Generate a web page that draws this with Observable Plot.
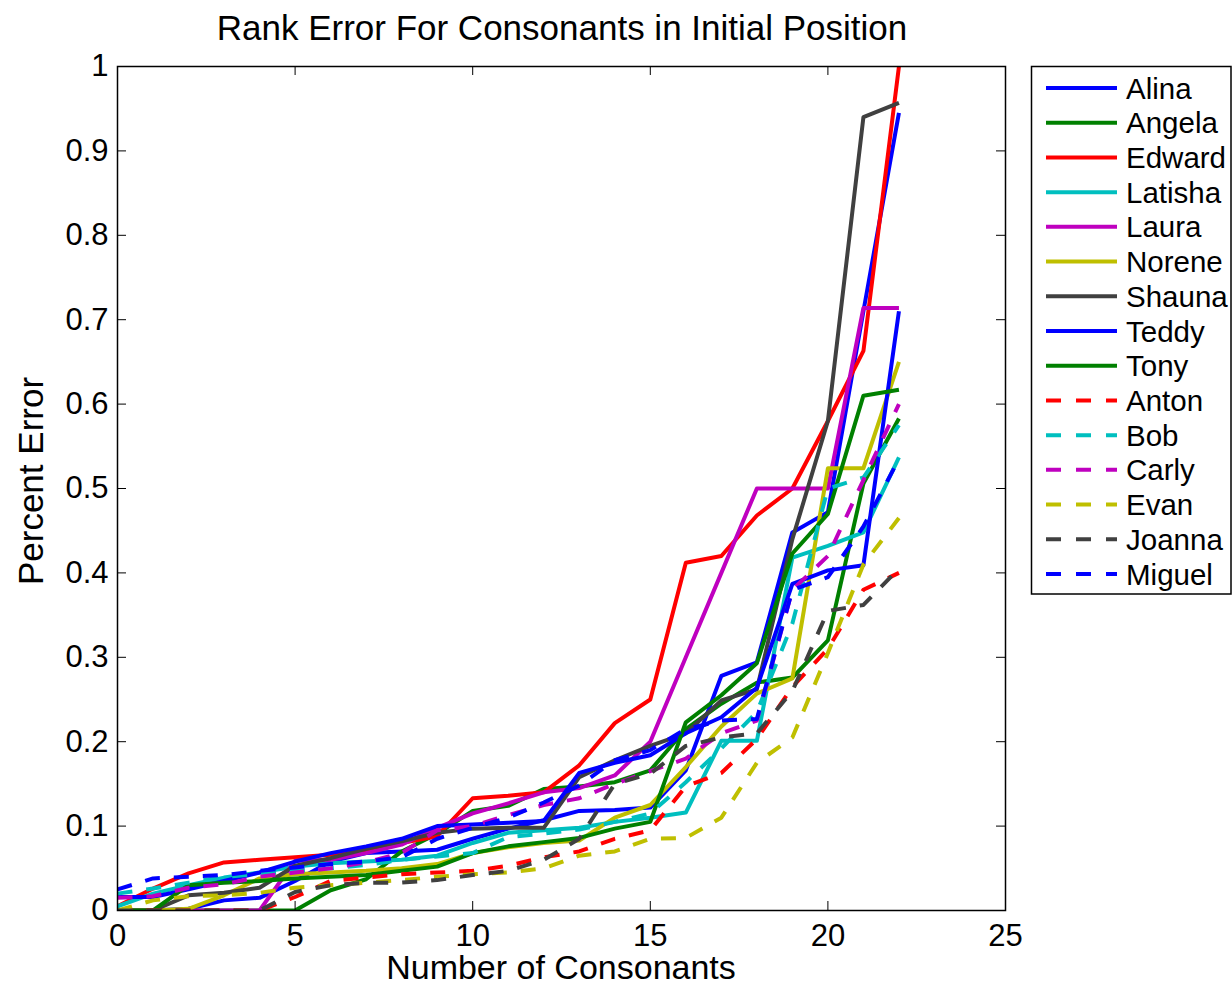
<!DOCTYPE html>
<html><head><meta charset="utf-8">
<script src="https://cdn.jsdelivr.net/npm/d3@7"></script>
<script src="https://cdn.jsdelivr.net/npm/@observablehq/plot@0.6"></script>
<style>
html,body{margin:0;padding:0;background:#fff;}
#wrap{position:relative;width:1232px;height:986px;font-family:"Liberation Sans",Arial,Helvetica,sans-serif;}
#wrap svg{position:absolute;left:0;top:0;}
</style></head><body><div id="wrap"></div>
<script>
// ---- data ----
const xs = [0,1,2,3,4,5,6,7,8,9,10,11,12,13,14,15,16,17,18,19,20,21,22];
const alina  = [0,0,0.002,0.012,0.015,0.035,0.058,0.068,0.07,0.072,0.085,0.097,0.107,0.118,0.119,0.122,0.166,0.278,0.294,0.448,0.472,0.71,0.945];
const angela = [0,0,0,0,0,0,0.024,0.037,0.07,0.091,0.118,0.124,0.144,0.147,0.152,0.166,0.215,0.245,0.27,0.276,0.32,0.506,0.583];
const edward = [0.005,0.026,0.044,0.057,0.06,0.063,0.066,0.072,0.08,0.088,0.133,0.136,0.14,0.172,0.222,0.25,0.412,0.42,0.468,0.50,0.58,0.663,1.0];
const latisha= [0.005,0.02,0.03,0.039,0.045,0.052,0.056,0.058,0.06,0.065,0.08,0.092,0.095,0.098,0.105,0.11,0.116,0.201,0.201,0.418,0.432,0.448,0.537];
const laura  = [0,0,0,0,0,0.059,0.06,0.068,0.078,0.098,0.115,0.127,0.14,0.145,0.16,0.20,0.30,0.40,0.50,0.50,0.50,0.714,0.714];
const norene = [0,0,0.002,0.018,0.038,0.043,0.045,0.047,0.05,0.055,0.068,0.075,0.08,0.083,0.11,0.125,0.17,0.218,0.257,0.275,0.524,0.524,0.65];
const shauna = [0,0,0.018,0.021,0.027,0.053,0.062,0.073,0.082,0.092,0.097,0.098,0.098,0.158,0.178,0.195,0.21,0.249,0.262,0.44,0.58,0.94,0.957];
const teddy  = [0.016,0.016,0.025,0.035,0.045,0.058,0.068,0.076,0.085,0.1,0.102,0.104,0.106,0.163,0.175,0.184,0.21,0.229,0.264,0.387,0.403,0.409,0.71];
const tony   = [0,0,0.03,0.033,0.035,0.038,0.04,0.042,0.047,0.052,0.068,0.076,0.081,0.086,0.097,0.105,0.223,0.255,0.293,0.423,0.47,0.61,0.617];
const anton  = [0,0,0,0,0,0.016,0.035,0.039,0.043,0.045,0.047,0.053,0.063,0.07,0.085,0.095,0.147,0.163,0.203,0.265,0.31,0.38,0.40];
const bob    = [0.02,0.026,0.033,0.04,0.043,0.047,0.05,0.054,0.06,0.064,0.068,0.087,0.091,0.096,0.105,0.115,0.152,0.192,0.235,0.34,0.50,0.513,0.575];
const carly  = [0.015,0.017,0.027,0.031,0.04,0.045,0.05,0.057,0.068,0.095,0.10,0.113,0.125,0.133,0.15,0.165,0.18,0.21,0.225,0.38,0.42,0.51,0.60];
const evan   = [0,0.012,0.017,0.018,0.021,0.027,0.03,0.033,0.036,0.04,0.043,0.045,0.05,0.065,0.07,0.085,0.086,0.11,0.175,0.205,0.305,0.41,0.465];
const joanna = [0,0,0,0,0,0.022,0.03,0.033,0.033,0.036,0.042,0.047,0.06,0.085,0.15,0.162,0.195,0.205,0.21,0.26,0.355,0.362,0.405];
const miguel = [0.025,0.038,0.04,0.042,0.047,0.051,0.055,0.058,0.063,0.085,0.098,0.11,0.128,0.148,0.178,0.19,0.215,0.225,0.227,0.38,0.395,0.455,0.535];

const seriesNames = ["Alina","Angela","Edward","Latisha","Laura","Norene","Shauna","Teddy","Tony","Anton","Bob","Carly","Evan","Joanna","Miguel"];
const seriesValues = [alina,angela,edward,latisha,laura,norene,shauna,teddy,tony,anton,bob,carly,evan,joanna,miguel];
const xTicks = [0,5,10,15,20,25];
const yTicks = [0,0.1,0.2,0.3,0.4,0.5,0.6,0.7,0.8,0.9,1];
const titleText = "Rank Error For Consonants in Initial Position";
const xLabel = "Number of Consonants";
const yLabel = "Percent Error";

// ---- styles ----
const seriesColors = ["#0000ff","#008000","#ff0000","#00bfbf","#bf00bf","#bfbf00","#404040","#0000ff","#008000",
                      "#ff0000","#00bfbf","#bf00bf","#bfbf00","#404040","#0000ff"];
const seriesDashed = [false,false,false,false,false,false,false,false,false,true,true,true,true,true,true];

const W = 1232, H = 986, mL = 117, mR = 227, mT = 66, mB = 76;
const plotH = H - mT - mB;
const plotW = W - mL - mR;
const tickLen = 9;
const FONT = "Liberation Sans, Arial, Helvetica, sans-serif";

const table = seriesNames.flatMap((name, k) => seriesValues[k].map((v, i) => ({name, x: xs[i], y: v})));

const lineMarks = seriesNames.map((name, k) =>
  Plot.line(table.filter(d => d.name === name), {
    x: "x", y: "y",
    stroke: seriesColors[k],
    strokeWidth: 4,
    strokeDasharray: seriesDashed[k] ? "15,14" : null,
    strokeLinecap: "butt",
    strokeLinejoin: "round",
    clip: true
  })
);

const chart = Plot.plot({
  width: W, height: H,
  marginLeft: mL, marginRight: mR, marginTop: mT, marginBottom: mB,
  style: {fontFamily: FONT, background: "transparent", color: "black", overflow: "visible"},
  x: {domain: [0, 25], axis: null},
  y: {domain: [0, 1], axis: null},
  marks: [
    ...lineMarks,
    Plot.ruleX(xTicks, {stroke: "black", strokeWidth: 1, insetTop: plotH - tickLen}),
    Plot.ruleX(xTicks, {stroke: "black", strokeWidth: 1, insetBottom: plotH - tickLen}),
    Plot.ruleY(yTicks, {stroke: "black", strokeWidth: 1, insetRight: plotW - tickLen}),
    Plot.ruleY(yTicks, {stroke: "black", strokeWidth: 1, insetLeft: plotW - tickLen}),
    Plot.frame({stroke: "black", strokeWidth: 1.5}),
    Plot.axisX({ticks: xTicks, tickSize: 0, tickPadding: 13, fontSize: 31, tickFormat: d3.format("~g"), label: null}),
    Plot.axisY({ticks: yTicks, tickSize: 0, tickPadding: 9, fontSize: 31, tickFormat: d3.format("~g"), label: null})
  ]
});

const wrap = document.getElementById("wrap");
wrap.appendChild(chart);

// ---- overlay: title, axis labels, legend ----
const ov = d3.select(wrap).append("svg")
  .attr("width", W).attr("height", H)
  .style("font-family", FONT)
  .style("pointer-events", "none");

ov.append("text").attr("x", 562).attr("y", 40).attr("text-anchor", "middle")
  .attr("font-size", 35).text(titleText);
ov.append("text").attr("x", 561).attr("y", 979).attr("text-anchor", "middle")
  .attr("font-size", 34).text(xLabel);
ov.append("text").attr("transform", "translate(43,481) rotate(-90)").attr("text-anchor", "middle")
  .attr("font-size", 35).text(yLabel);

const lg = ov.append("g");
lg.append("rect").attr("x", 1031.5).attr("y", 66.5).attr("width", 199.5).attr("height", 527.5)
  .attr("fill", "white").attr("stroke", "black").attr("stroke-width", 1.5);
const rowStep = (574 - 88) / 14;
seriesNames.forEach((name, k) => {
  const cy = 88 + k * rowStep;
  lg.append("line").attr("x1", 1046).attr("x2", 1117).attr("y1", cy).attr("y2", cy)
    .attr("stroke", seriesColors[k]).attr("stroke-width", 4)
    .attr("stroke-dasharray", seriesDashed[k] ? "15,15" : null);
  lg.append("text").attr("x", 1126).attr("y", cy + 10.5).attr("font-size", 29.5).text(name);
});
</script></body></html>
